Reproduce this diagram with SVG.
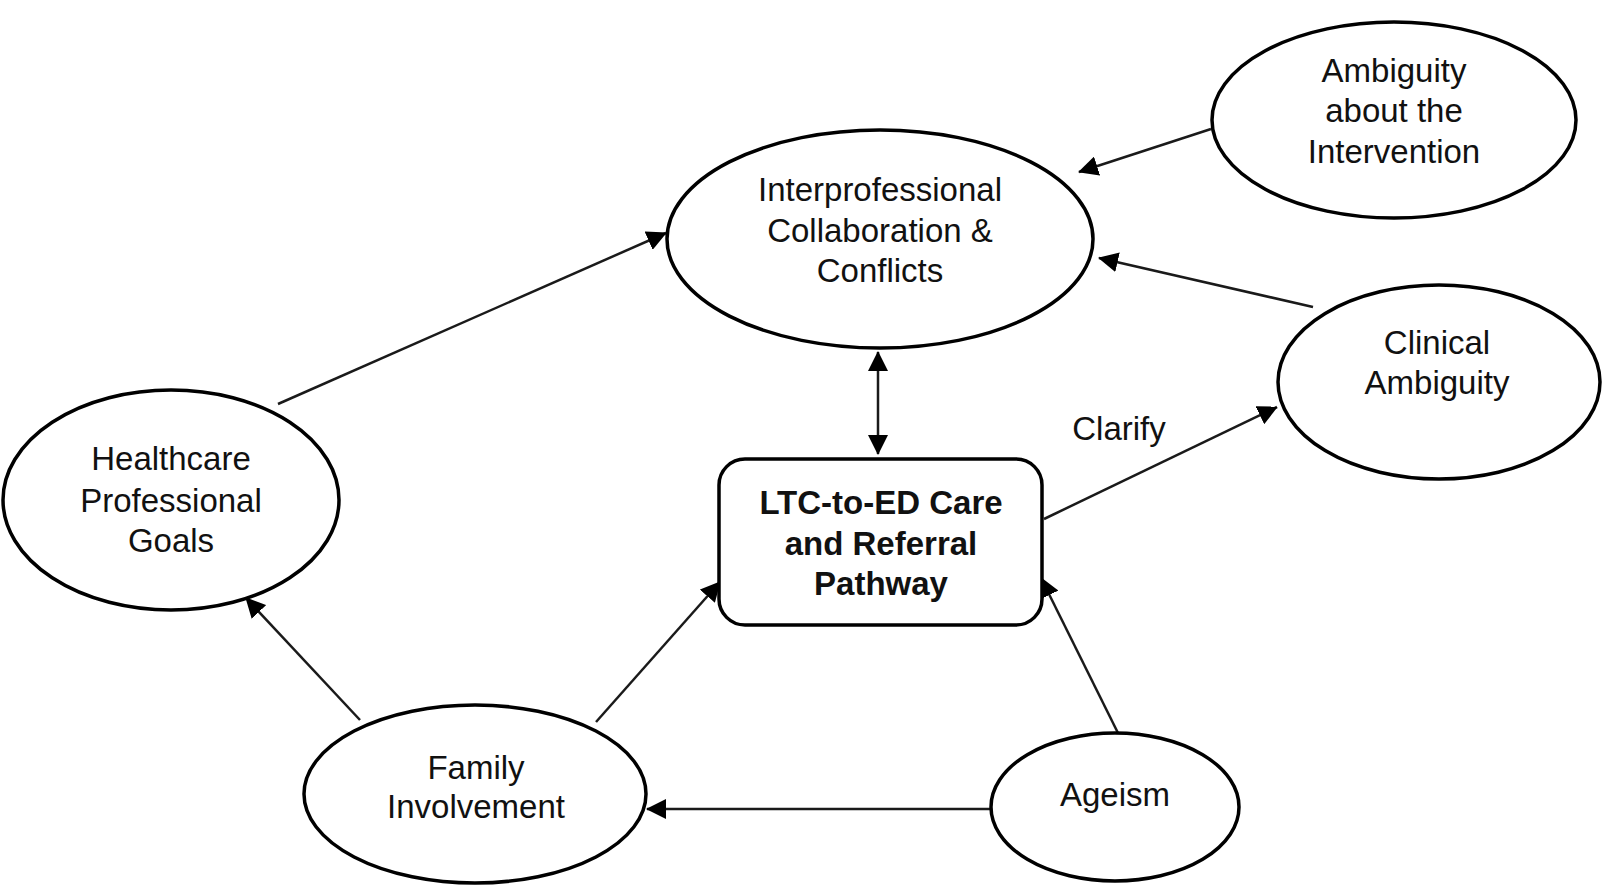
<svg xmlns="http://www.w3.org/2000/svg" width="1602" height="886" viewBox="0 0 1602 886">
<style>
.node{fill:#fff;stroke:#000;stroke-width:3.5}
.lbl{font-family:"Liberation Sans",Arial,sans-serif;font-size:33px;fill:#111;text-anchor:middle}
.bold{font-weight:bold}
.edge{stroke:#1a1a1a;stroke-width:2.5;fill:none;marker-end:url(#ah)}
</style>
<defs>
<marker id="ah" markerUnits="userSpaceOnUse" markerWidth="20" markerHeight="20" refX="19" refY="10" orient="auto-start-reverse" viewBox="0 0 20 20">
<path d="M0,0 L20,10 L0,20 z" fill="#000"/>
</marker>
</defs>
<rect width="1602" height="886" fill="#fff"/>
<g id="connectors">
<line class="edge" x1="278" y1="404" x2="666" y2="233"/>
<line class="edge" x1="1211" y1="129" x2="1079" y2="172"/>
<line class="edge" x1="1313" y1="307" x2="1099" y2="258"/>
<line class="edge" x1="878" y1="352" x2="878" y2="454" style="marker-start:url(#ah)"/>
<line class="edge" x1="1044" y1="519" x2="1277" y2="407"/>
<line class="edge" x1="360" y1="720" x2="246" y2="598"/>
<line class="edge" x1="596" y1="722" x2="720" y2="582"/>
<line class="edge" x1="1118" y1="733" x2="1041" y2="578"/>
<line class="edge" x1="991" y1="809" x2="647" y2="809"/>
<text class="lbl" x="1119" y="440">Clarify</text>
</g>
<g id="interprofessional">
<ellipse class="node" cx="880" cy="239" rx="213" ry="109"/>
<text class="lbl" x="880" y="201">Interprofessional</text>
<text class="lbl" x="880" y="242">Collaboration &amp;</text>
<text class="lbl" x="880" y="282">Conflicts</text>
</g>
<g id="ambiguity-intervention">
<ellipse class="node" cx="1394" cy="120" rx="182" ry="98"/>
<text class="lbl" x="1394" y="82">Ambiguity</text>
<text class="lbl" x="1394" y="122">about the</text>
<text class="lbl" x="1394" y="163">Intervention</text>
</g>
<g id="clinical-ambiguity">
<ellipse class="node" cx="1439" cy="382" rx="161" ry="97"/>
<text class="lbl" x="1437" y="354">Clinical</text>
<text class="lbl" x="1437" y="394">Ambiguity</text>
</g>
<g id="healthcare-goals">
<ellipse class="node" cx="171" cy="500" rx="168" ry="110"/>
<text class="lbl" x="171" y="470">Healthcare</text>
<text class="lbl" x="171" y="512">Professional</text>
<text class="lbl" x="171" y="552">Goals</text>
</g>
<g id="ltc-pathway">
<rect class="node" x="719" y="459" width="323" height="166" rx="26" ry="26"/>
<text class="lbl bold" x="881" y="514">LTC-to-ED Care</text>
<text class="lbl bold" x="881" y="555">and Referral</text>
<text class="lbl bold" x="881" y="595">Pathway</text>
</g>
<g id="family-involvement">
<ellipse class="node" cx="475" cy="794" rx="171" ry="89"/>
<text class="lbl" x="476" y="779">Family</text>
<text class="lbl" x="476" y="818">Involvement</text>
</g>
<g id="ageism">
<ellipse class="node" cx="1115" cy="807" rx="124" ry="74"/>
<text class="lbl" x="1115" y="806">Ageism</text>
</g>
</svg>
